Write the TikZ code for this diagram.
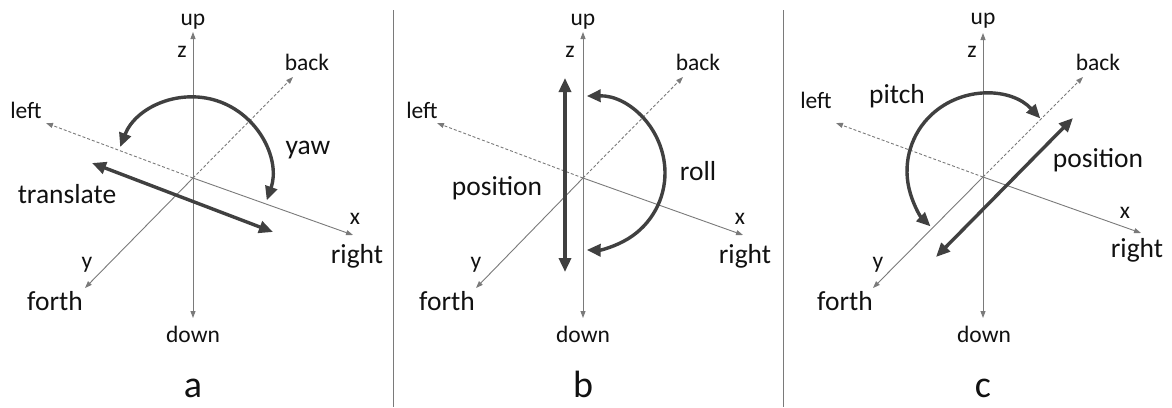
\documentclass[tikz,border=0pt]{standalone}
\usepackage{fontspec}
\setmainfont{Carlito}
\usetikzlibrary{arrows.meta}
\definecolor{axgray}{HTML}{7A7A7A}
\definecolor{dkgray}{HTML}{404040}
\definecolor{txt}{HTML}{111111}
\begin{document}
\begin{tikzpicture}[x=1pt,y=-1pt,
  axis/.style={draw=axgray, line width=0.9pt, -{Triangle[length=7pt,width=5pt]}},
  daxis/.style={axis, dash pattern=on 3pt off 2pt},
  bigarrow/.style={draw=dkgray, line width=3.4pt, {Triangle[length=14pt,width=12pt]}-{Triangle[length=14pt,width=12pt]}},
  sep/.style={draw=axgray, line width=0.9pt},
  small/.style={font=\fontsize{23.5}{26}\selectfont, text=txt, anchor=base, inner sep=0pt},
  big/.style={font=\fontsize{27.5}{30}\selectfont, text=txt, anchor=base, inner sep=0pt},
  captxt/.style={font=\fontsize{38}{40}\selectfont, text=txt, anchor=base, inner sep=0pt}]
\useasboundingbox[fill=white] (0,0) rectangle (1172,407);

% separators
\coordinate (s1t) at (393,10); \coordinate (s1b) at (393,407);
\coordinate (s2t) at (783,10); \coordinate (s2b) at (783,407);
\draw[sep] (s1t) -- (s1b);
\draw[sep] (s2t) -- (s2b);

% ---------- panel a ----------
\coordinate (aO) at (193,178);
\coordinate (aU) at (193,32); \coordinate (aD) at (193,318);
\coordinate (aL) at (46,123); \coordinate (aB) at (293,77);
\coordinate (aX) at (353,235); \coordinate (aY) at (85,288);
\draw[axis] (aO) -- (aU);
\draw[axis] (aO) -- (aD);
\draw[daxis] (aO) -- (aL);
\draw[daxis] (aO) -- (aB);
\draw[axis] (aO) -- (aX);
\draw[axis] (aO) -- (aY);
\coordinate (aC) at (193,175);
\draw[bigarrow] ([shift={(-159:78)}]aC) arc[start angle=-159, end angle=19, radius=78];
\coordinate (aT1) at (92,163); \coordinate (aT2) at (273,232);
\draw[bigarrow] (aT1) -- (aT2);
\node[small] (aup) at (193,25) {up};
\node[small] (az) at (182,57) {z};
\node[small] (aback) at (307,70) {back};
\node[small] (aleft) at (26,118) {left};
\node[big] (ayaw) at (308,154) {yaw};
\node[big] (atr) at (67,203) {translate};
\node[small] (ax) at (355,224) {x};
\node[big] (aright) at (357,263) {right};
\node[small] (ay) at (87,268) {y};
\node[big] (aforth) at (55,310) {forth};
\node[small] (adown) at (193,342) {down};
\node[captxt] (acap) at (193,397) {a};

% ---------- panel b ----------
\coordinate (bO) at (583,178);
\coordinate (bU) at (583,32); \coordinate (bD) at (583,318);
\coordinate (bL) at (437,123); \coordinate (bB) at (683,77);
\coordinate (bX) at (743,235); \coordinate (bY) at (476,288);
\draw[axis] (bO) -- (bU);
\draw[axis] (bO) -- (bD);
\draw[daxis] (bO) -- (bL);
\draw[daxis] (bO) -- (bB);
\draw[axis] (bO) -- (bX);
\draw[axis] (bO) -- (bY);
\coordinate (bC) at (588,173);
\draw[bigarrow] ([shift={(-91:77)}]bC) arc[start angle=-91, end angle=91, radius=77];
\coordinate (bT1) at (565,78); \coordinate (bT2) at (565,272);
\draw[bigarrow] (bT1) -- (bT2);
\node[small] (bup) at (583,25) {up};
\node[small] (bz) at (570,57) {z};
\node[small] (bback) at (698,70) {back};
\node[small] (bleft) at (422,118) {left};
\node[big] (broll) at (698,180) {roll};
\node[big] (bpos) at (497,195) {position};
\node[small] (bx) at (740,224) {x};
\node[big] (bright) at (745,263) {right};
\node[small] (by) at (476,268) {y};
\node[big] (bforth) at (447,310) {forth};
\node[small] (bdown) at (583,342) {down};
\node[captxt] (bcap) at (583,397) {b};

% ---------- panel c ----------
\coordinate (cO) at (983,177);
\coordinate (cU) at (983,33); \coordinate (cD) at (983,318);
\coordinate (cL) at (836,123); \coordinate (cB) at (1083,77);
\coordinate (cX) at (1141,233); \coordinate (cY) at (873,288);
\draw[axis] (cO) -- (cU);
\draw[axis] (cO) -- (cD);
\draw[daxis] (cO) -- (cL);
\draw[daxis] (cO) -- (cB);
\draw[axis] (cO) -- (cX);
\draw[axis] (cO) -- (cY);
\coordinate (cC) at (984,171);
\draw[bigarrow] ([shift={(-43:77)}]cC) arc[start angle=-43, end angle=-226, radius=77];
\coordinate (cT1) at (1073,118); \coordinate (cT2) at (936,257);
\draw[bigarrow] (cT1) -- (cT2);
\node[small] (cup) at (983,24) {up};
\node[small] (cz) at (972,57) {z};
\node[small] (cback) at (1098,70) {back};
\node[small] (cleft) at (816,108) {left};
\node[big] (cpitch) at (897,103) {pitch};
\node[big] (cpos) at (1098,167) {position};
\node[small] (cx) at (1125,218) {x};
\node[big] (cright) at (1137,257) {right};
\node[small] (cy) at (878,268) {y};
\node[big] (cforth) at (845,310) {forth};
\node[small] (cdown) at (984,342) {down};
\node[captxt] (ccap) at (983,397) {c};
\end{tikzpicture}
\end{document}
